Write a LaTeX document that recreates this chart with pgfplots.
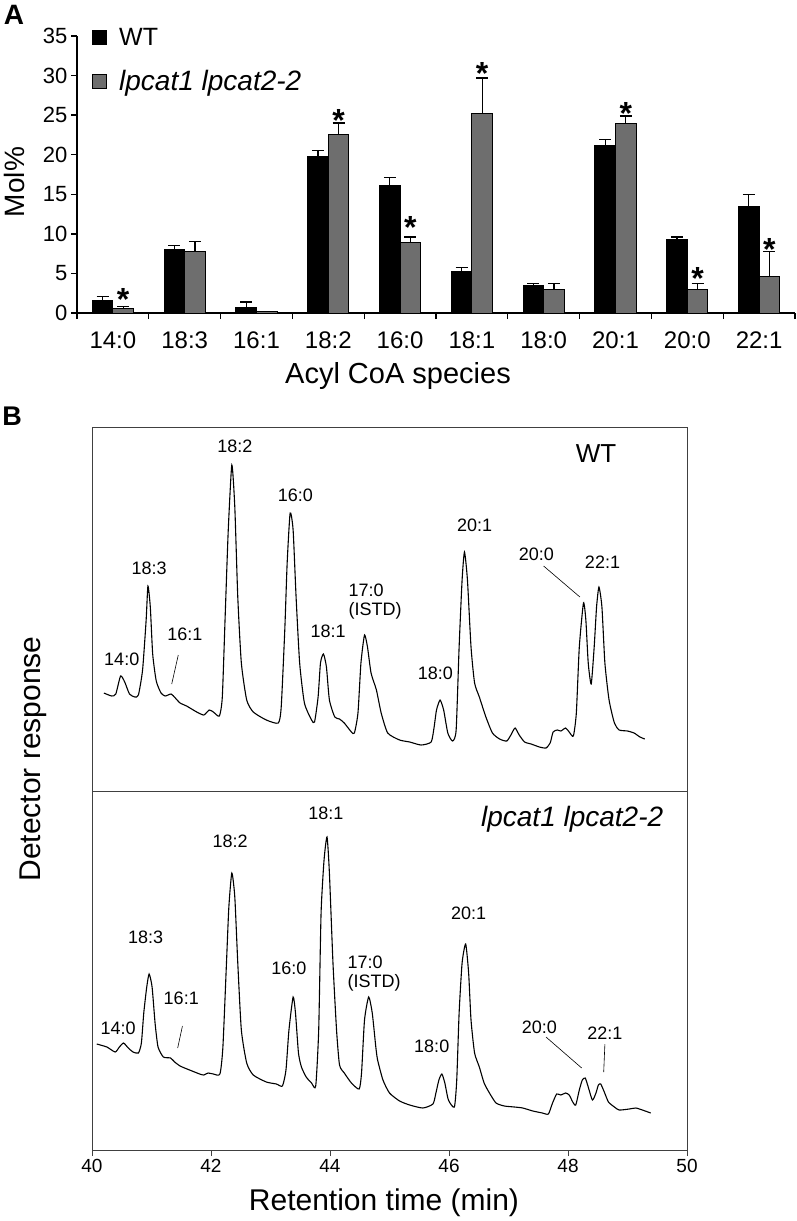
\documentclass[border=0pt]{standalone}
\usepackage{pgfplots}
\pgfplotsset{compat=1.18}
\usepackage{fontspec}
\setmainfont{Liberation Sans}
\newcommand\fs[1]{\fontsize{#1}{#1}\selectfont}
\begin{document}
\begin{tikzpicture}
\useasboundingbox (0,0) rectangle (797pt,-1221pt);
% ---------------- Panel A ----------------
\begin{axis}[
  at={(77pt,-313pt)}, anchor=south west, scale only axis,
  width=718pt, height=277pt,
  xmin=0, xmax=10, ymin=0, ymax=35,
  axis lines*=left,
  axis line style={line width=1.3pt, black},
  /pgf/number format/assume math mode=true,
  xtick={0,1,...,10},
  xticklabels={,,,,,,,,,,},
  extra x ticks={0.5,1.5,...,9.5},
  extra x tick labels={14:0,18:3,16:1,18:2,16:0,18:1,18:0,20:1,20:0,22:1},
  extra x tick style={major tick length=0pt, tick label style={font=\fs{24}, yshift=-15pt}},
  ytick={0,5,...,35},
  yticklabel style={font=\fs{22}},
  tick align=outside, major tick length=6pt,
  every tick/.style={black, line width=1.3pt},
  clip=false,
  legend style={at={(axis description cs:0.0209,1.035)}, anchor=north west, draw=none, fill=none,
    font=\fs{25}, row sep=19pt, inner sep=0pt,
    /tikz/every odd column/.append style={column sep=10pt}},
  legend cell align=left,
]
\addplot[ybar, bar width=20.5pt, bar shift=0pt, fill=black, draw=black, line width=1pt,
  legend image code/.code={\draw[fill=black, draw=black, line width=1pt] (0pt,-7pt) rectangle (14pt,7pt);},
  error bars/.cd, y dir=plus, y explicit,
  error bar style={line width=1.2pt, black},
  error mark options={rotate=90, line width=1.2pt, black, mark size=6pt}]
coordinates {
(0.357,1.6) +- (0,0.5)
(1.357,8.0) +- (0,0.5)
(2.357,0.7) +- (0,0.7)
(3.357,19.8) +- (0,0.7)
(4.357,16.1) +- (0,1.0)
(5.357,5.3) +- (0,0.4)
(6.357,3.5) +- (0,0.2)
(7.357,21.2) +- (0,0.7)
(8.357,9.3) +- (0,0.3)
(9.357,13.5) +- (0,1.5)
};
\addlegendentry{WT}
\addplot[ybar, bar width=20.5pt, bar shift=0pt, fill=black!57, draw=black, line width=1pt,
  legend image code/.code={\draw[fill=black!57, draw=black, line width=1pt] (0pt,-7pt) rectangle (14pt,7pt);},
  error bars/.cd, y dir=plus, y explicit,
  error bar style={line width=1.2pt, black},
  error mark options={rotate=90, line width=1.2pt, black, mark size=6pt}]
coordinates {
(0.643,0.55) +- (0,0.3)
(1.643,7.8) +- (0,1.2)
(2.643,0.15) +- (0,0)
(3.643,22.5) +- (0,1.5)
(4.643,8.9) +- (0,0.7)
(5.643,25.2) +- (0,4.5)
(6.643,3.0) +- (0,0.7)
(7.643,23.9) +- (0,1.0)
(8.643,3.0) +- (0,0.7)
(9.643,4.6) +- (0,3.2)
};
\addlegendentry{\itshape\fs{28}lpcat1 lpcat2-2}
\addplot[only marks, mark=text, text mark={*}, text mark as node=true,
  text mark style={font=\bfseries\fs{32}, yshift=-7pt, inner sep=0pt}, forget plot]
coordinates {(0.643,2.57) (3.643,25.23) (4.643,11.75) (5.643,31.12) (7.643,26.07) (8.643,5.22) (9.643,8.88)};
\end{axis}
% ---------------- Panel B top (WT) ----------------
\begin{axis}[
  at={(92pt,-791pt)}, anchor=south west, scale only axis,
  width=595pt, height=364pt,
  xmin=40, xmax=50, ymin=0, ymax=364, ticks=none,
  axis line style={line width=1pt, black!75}, clip=false]
\addplot[black, line width=1.1pt, smooth, tension=0.35] coordinates {
(40.20,98) (40.33,95) (40.40,97) (40.48,115) (40.55,109) (40.63,97) (40.72,94) (40.78,96)
(40.85,121) (40.91,171) (40.94,205) (40.98,184) (41.02,137) (41.08,110) (41.16,98) (41.23,95)
(41.33,97) (41.40,93) (41.48,88) (41.59,85) (41.76,79) (41.88,76) (41.97,81) (42.04,79) (42.14,75)
(42.19,94) (42.24,178) (42.29,261) (42.35,326) (42.40,284) (42.45,194) (42.51,128) (42.60,91)
(42.71,79) (42.93,71) (43.13,68) (43.18,84) (43.24,161) (43.28,228) (43.33,278) (43.38,261)
(43.43,194) (43.49,128) (43.57,88) (43.69,71) (43.74,69) (43.80,94) (43.84,128) (43.89,137)
(43.94,124) (43.99,91) (44.08,74) (44.16,72) (44.24,68) (44.36,59) (44.41,58) (44.47,78)
(44.52,128) (44.58,156) (44.63,144) (44.69,118) (44.78,101) (44.86,78) (44.97,58) (45.17,51)
(45.34,49) (45.53,46) (45.70,49) (45.75,64) (45.79,81) (45.85,91) (45.91,81) (45.98,58)
(46.06,50) (46.12,61) (46.17,144) (46.22,211) (46.26,239) (46.31,211) (46.37,144) (46.43,108)
(46.51,94) (46.62,74) (46.73,58) (46.85,52) (46.97,50) (47.04,56) (47.11,63) (47.18,56)
(47.27,49) (47.38,47) (47.52,44) (47.63,43) (47.70,48) (47.75,59) (47.82,61) (47.88,60)
(47.96,63) (48.02,59) (48.09,55) (48.14,78) (48.19,144) (48.26,188) (48.30,171) (48.34,128)
(48.39,107) (48.44,144) (48.48,184) (48.52,204) (48.57,184) (48.62,128) (48.69,91) (48.78,68)
(48.86,61) (49.00,60) (49.11,58) (49.21,54) (49.29,52)
};
\addplot[black, line width=0.6pt] coordinates {(41.45,136) (41.34,107)};
\addplot[black, line width=0.6pt] coordinates {(47.59,225) (48.20,194)};
\node[font=\fs{18}] at (axis cs:42.40,345) {18:2};
\node[font=\fs{18}] at (axis cs:43.42,296) {16:0};
\node[font=\fs{18}] at (axis cs:40.96,223) {18:3};
\node[font=\fs{18}] at (axis cs:40.50,132) {14:0};
\node[font=\fs{18}] at (axis cs:41.56,157) {16:1};
\node[font=\fs{18}] at (axis cs:43.97,160) {18:1};
\node[font=\fs{18}, align=left] at (axis cs:44.76,189) {17:0\\[1pt](ISTD)};
\node[font=\fs{18}] at (axis cs:45.77,118) {18:0};
\node[font=\fs{18}] at (axis cs:46.43,266) {20:1};
\node[font=\fs{18}] at (axis cs:47.47,237) {20:0};
\node[font=\fs{18}] at (axis cs:48.58,229) {22:1};
\node[font=\fs{26}] at (axis cs:48.47,337) {WT};
\end{axis}
% ---------------- Panel B bottom (mutant) ----------------
\begin{axis}[
  at={(92pt,-1150pt)}, anchor=south west, scale only axis,
  width=595pt, height=359pt,
  xmin=40, xmax=50, ymin=0, ymax=359,
  xtick={40,42,...,50}, ytick=\empty, xtick pos=left,
  tick align=outside, major tick length=6pt,
  every tick/.style={black!75, line width=1pt},
  /pgf/number format/assume math mode=true,
  xticklabel style={font=\fs{19}},
  axis line style={line width=1pt, black!75}, clip=false]
\addplot[black, line width=1.1pt, smooth, tension=0.35] coordinates {
(40.08,106) (40.25,103) (40.39,98) (40.46,103) (40.53,107) (40.61,102) (40.69,98) (40.78,97)
(40.83,107) (40.87,137) (40.92,163) (40.96,176) (41.01,163) (41.06,127) (41.11,103) (41.20,93)
(41.32,92) (41.39,88) (41.48,84) (41.64,80) (41.81,76) (41.88,75) (41.95,77) (42.04,76) (42.15,76)
(42.20,103) (42.26,187) (42.30,243) (42.35,277) (42.40,253) (42.45,187) (42.51,120) (42.60,87)
(42.71,75) (42.93,68) (43.10,66) (43.20,64) (43.26,80) (43.31,120) (43.38,153) (43.42,137)
(43.47,97) (43.52,83) (43.60,73) (43.69,67) (43.76,64) (43.81,120) (43.85,237) (43.90,290)
(43.95,313) (43.99,277) (44.05,187) (44.11,120) (44.16,85) (44.24,77) (44.36,67) (44.49,61)
(44.53,77) (44.58,130) (44.65,153) (44.71,137) (44.77,103) (44.80,90) (44.89,70) (45.00,57)
(45.17,49) (45.34,45) (45.56,42) (45.73,46) (45.78,57) (45.83,70) (45.88,76) (45.93,67)
(45.99,50) (46.09,43) (46.13,70) (46.17,137) (46.22,187) (46.28,206) (46.33,177) (46.37,130)
(46.43,97) (46.51,83) (46.59,67) (46.68,57) (46.79,47) (46.93,44) (47.10,43) (47.24,42)
(47.41,39) (47.57,37) (47.67,36) (47.74,47) (47.81,56) (47.88,55) (47.96,57) (48.02,55)
(48.08,48) (48.13,45) (48.19,60) (48.24,70) (48.29,72) (48.34,63) (48.41,50) (48.47,57)
(48.51,65) (48.55,66) (48.61,58) (48.68,48) (48.78,43) (48.86,40) (49.03,41) (49.14,42)
(49.25,40) (49.39,37)
};
\addplot[black, line width=0.6pt] coordinates {(41.52,124) (41.44,102)};
\addplot[black, line width=0.6pt] coordinates {(47.63,113) (48.23,82)};
\addplot[black, line width=0.6pt] coordinates {(48.62,106) (48.60,78)};
\node[font=\fs{18}] at (axis cs:43.93,337) {18:1};
\node[font=\fs{18}] at (axis cs:42.32,309) {18:2};
\node[font=\fs{18}] at (axis cs:40.90,213) {18:3};
\node[font=\fs{18}] at (axis cs:43.31,182) {16:0};
\node[font=\fs{18}, align=left] at (axis cs:44.74,176) {17:0\\[1pt](ISTD)};
\node[font=\fs{18}] at (axis cs:41.50,152) {16:1};
\node[font=\fs{18}] at (axis cs:40.44,122) {14:0};
\node[font=\fs{18}] at (axis cs:46.33,237) {20:1};
\node[font=\fs{18}] at (axis cs:45.71,104) {18:0};
\node[font=\fs{18}] at (axis cs:47.52,123) {20:0};
\node[font=\fs{18}] at (axis cs:48.62,117) {22:1};
\node[font=\itshape\fs{28}, anchor=east] at (axis cs:49.66,331) {lpcat1 lpcat2-2};
\end{axis}
% ---------------- Labels ----------------
\node[font=\bfseries\fs{28}] at (14pt,-15pt) {A};
\node[font=\bfseries\fs{27}] at (12pt,-416pt) {B};
\node[font=\fs{28}, rotate=90] at (14pt,-182pt) {Mol\%};
\node[font=\fs{29}] at (398pt,-376pt) {Acyl CoA species};
\node[font=\fs{30}, rotate=90] at (33pt,-759pt) {Detector response};
\node[font=\fs{30}] at (384pt,-1203pt) {Retention time (min)};
\end{tikzpicture}
\end{document}
